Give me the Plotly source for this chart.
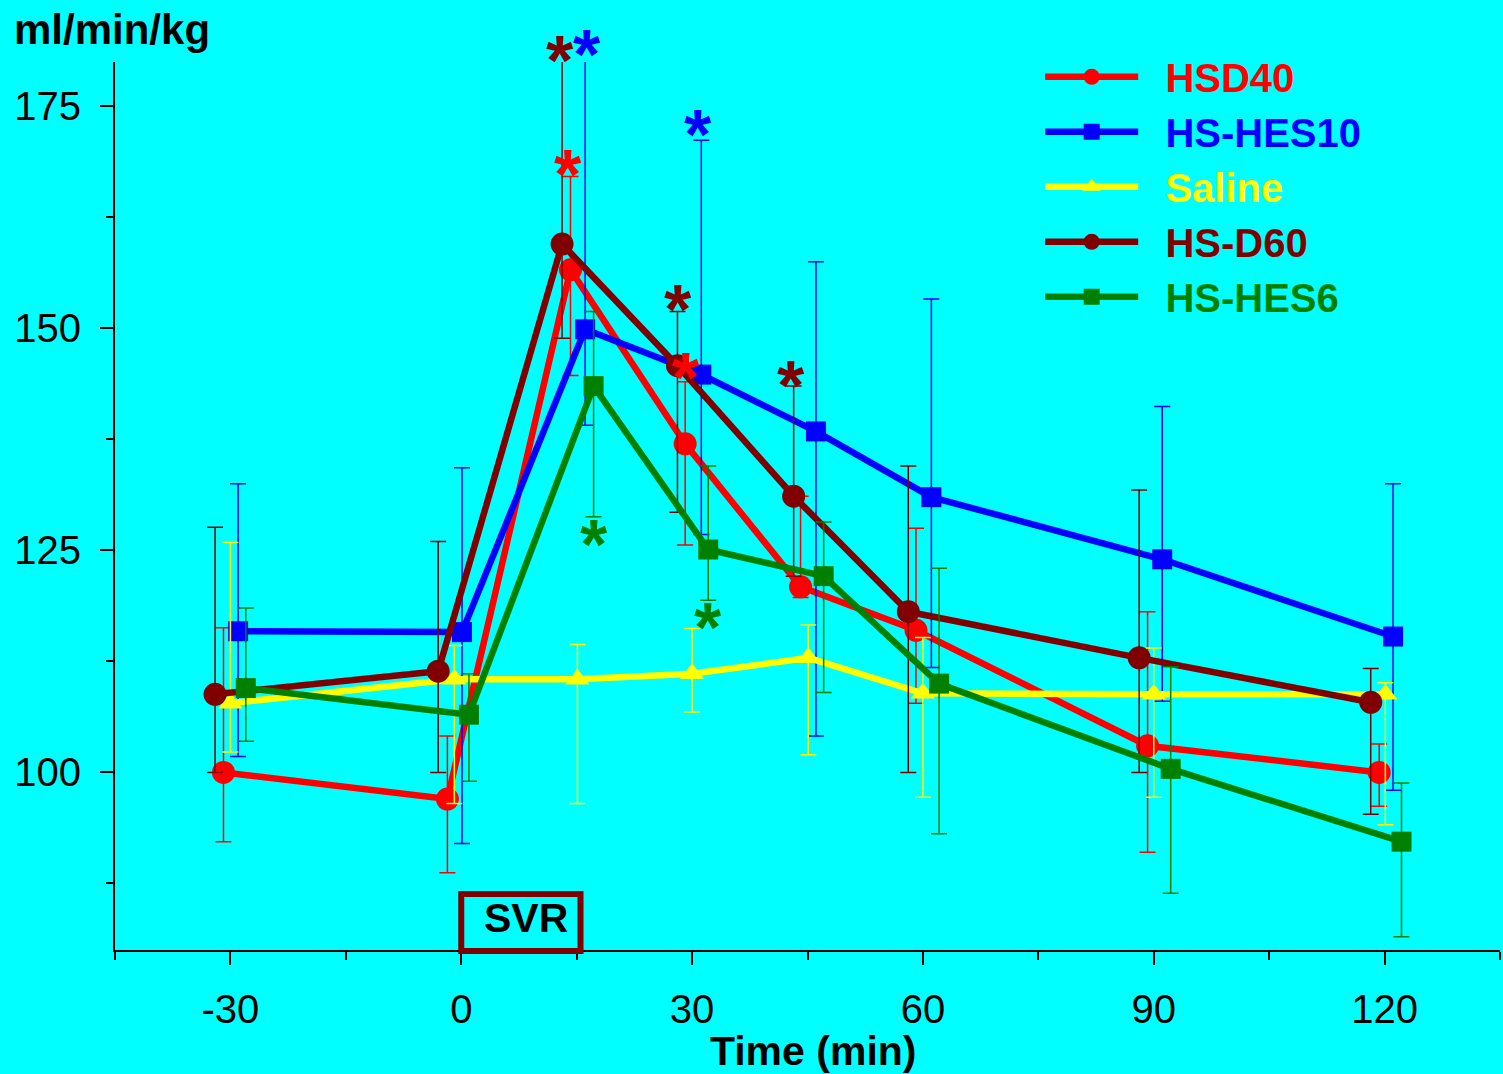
import plotly.graph_objects as go

# ---------------- data ----------------
names = ["HSD40", "HS-HES10", "Saline", "HS-D60", "HS-HES6"]
colors = ["#FF0000", "#0000FF", "#FFFF00", "#800000", "#008000"]
symbols = ["circle", "square", "triangle-up", "circle", "square"]

hsd40_x = [-30.9, -1.8, 14.2, 29.1, 44.1, 59.1, 89.2, 119.3]
hsd40_y = [100.0, 97.0, 156.6, 137.0, 120.9, 116.0, 103.0, 100.0]
hsd40_hi = [116.3, 104.1, 167.1, 144.0, 131.1, 127.5, 118.1, 103.2]
hsd40_lo = [92.2, 88.7, 144.7, 125.6, 119.7, 107.8, 91.0, 96.2]

hes10_x = [-29.0, 0.1, 16.1, 31.2, 46.1, 61.1, 91.1, 121.1]
hes10_y = [115.9, 115.8, 149.9, 144.8, 138.4, 131.0, 124.0, 115.3]
hes10_hi = [132.5, 134.3, 182.0, 171.2, 157.5, 153.3, 141.2, 132.5]
hes10_lo = [101.8, 92.0, 139.1, 126.8, 104.1, 111.8, 108.0, 98.0]

saline_x = [-30.0, -0.9, 15.1, 30.0, 45.1, 60.0, 90.0, 120.1]
saline_y = [107.8, 110.5, 110.5, 111.1, 112.9, 108.9, 108.8, 108.8]
saline_hi = [125.9, 114.3, 114.4, 116.2, 116.6, 115.2, 114.0, 110.1]
saline_lo = [102.3, 96.5, 96.5, 106.8, 102.0, 97.2, 97.2, 94.1]

d60_x = [-32.0, -3.0, 13.1, 28.1, 43.2, 58.1, 88.1, 118.2]
d60_y = [108.8, 111.4, 159.5, 145.8, 131.1, 118.1, 112.9, 107.9]
d60_hi = [127.6, 126.0, 182.0, 151.9, 143.5, 134.5, 131.8, 111.7]
d60_lo = [100.0, 100.0, 148.9, 129.3, 122.1, 100.0, 100.0, 95.3]

hes6_x = [-28.0, 1.0, 17.2, 32.1, 47.1, 62.1, 92.2, 122.2]
hes6_y = [109.5, 106.5, 143.5, 125.1, 122.1, 110.0, 100.4, 92.2]
hes6_hi = [118.5, 111.1, 151.9, 134.5, 128.2, 123.0, 111.9, 98.8]
hes6_lo = [103.5, 99.0, 128.8, 119.4, 109.0, 93.1, 86.4, 81.5]

# significance asterisks (x in min, y in ml/min/kg, series index)
star_x = [12.8, 16.4, 13.9, 30.8, 28.2, 29.2, 42.9, 17.2, 32.1]
star_y = [181.4, 182.0, 168.5, 173.0, 153.3, 145.6, 144.7, 126.8, 117.5]
star_series = [3, 1, 0, 1, 3, 0, 3, 4, 4]

x_ticks = [-30, 0, 30, 60, 90, 120]
y_ticks = [100, 125, 150, 175]
x_range = [-45, 135]
y_range = [80, 180]

series = [
    (hsd40_x, hsd40_y, hsd40_hi, hsd40_lo),
    (hes10_x, hes10_y, hes10_hi, hes10_lo),
    (saline_x, saline_y, saline_hi, saline_lo),
    (d60_x, d60_y, d60_hi, d60_lo),
    (hes6_x, hes6_y, hes6_hi, hes6_lo),
]
marker_sizes = [23, 20, 21, 23, 20]

FONT = "Liberation Sans, Arial, Helvetica, sans-serif"
BG = "#00FFFF"
NB = "\u00a0"

to_px = lambda v: (v - x_range[0]) / (x_range[1] - x_range[0])
to_py = lambda v: (v - y_range[0]) / (y_range[1] - y_range[0])

fig = go.Figure()
for i, (xs, ys, hi, lo) in enumerate(series):
    fig.add_trace(go.Scatter(
        x=xs, y=ys, mode="lines+markers",
        name="<b><span style='color:%s'>%s%s</span></b>" % (colors[i], NB * 2, names[i]),
        line=dict(color=colors[i], width=6.5),
        marker=dict(symbol=symbols[i], size=marker_sizes[i], color=colors[i],
                    line=dict(width=0)),
        error_y=dict(type="data", symmetric=False,
                     array=[h - y for h, y in zip(hi, ys)],
                     arrayminus=[y - l for y, l in zip(ys, lo)],
                     color=colors[i], thickness=1.5, width=8),
    ))

# asterisks (paper coords derived from data so those above the range still show)
for sx, sy, si in zip(star_x, star_y, star_series):
    fig.add_annotation(x=to_px(sx), y=to_py(sy), xref="paper", yref="paper",
                       text="<b>*</b>", showarrow=False,
                       yanchor="middle", xanchor="center", yshift=-11,
                       font=dict(size=70, color=colors[si], family=FONT))

# SVR box (x in minutes)
svr_x0, svr_x1 = 0.0, 15.5
fig.add_shape(type="rect", xref="paper", yref="paper",
              x0=to_px(svr_x0), x1=to_px(svr_x1), y0=-0.001, y1=0.063,
              line=dict(color="#800000", width=6), fillcolor="rgba(0,0,0,0)",
              layer="above")
fig.add_annotation(x=to_px((svr_x0 + svr_x1) / 2) + 0.004, y=0.0365,
                   xref="paper", yref="paper", text="<b>SVR</b>",
                   showarrow=False, xanchor="center", yanchor="middle",
                   font=dict(size=41, color="black", family=FONT))

# y-axis unit label
fig.add_annotation(x=-0.0747, y=1.037, xref="paper", yref="paper",
                   text="<b>ml/min/kg</b>", showarrow=False,
                   xanchor="left", yanchor="middle",
                   font=dict(size=42, color="black", family=FONT))

fig.update_layout(
    width=1503, height=1074,
    paper_bgcolor=BG, plot_bgcolor=BG,
    margin=dict(l=115, r=3, t=62, b=124, autoexpand=False),
    font=dict(family=FONT, color="black"),
    showlegend=True,
    legend=dict(x=0.668, y=1.020, xanchor="left", yanchor="top",
                bgcolor="rgba(0,0,0,0)", font=dict(size=40, family=FONT),
                itemwidth=93, tracegroupgap=0),
    xaxis=dict(range=x_range, tickvals=x_ticks, ticktext=[str(v) for v in x_ticks],
               ticks="outside", ticklen=13, tickwidth=1.5, tickcolor="black",
               showline=True, linecolor="black", linewidth=2,
               showgrid=False, zeroline=False,
               tickfont=dict(size=40, family=FONT), ticklabelstandoff=10,
               minor=dict(dtick=15, tick0=0, ticks="outside", ticklen=8,
                          tickwidth=1.5, tickcolor="black", showgrid=False),
               title=dict(text="<b>" + NB + "Time (min)</b>",
                          font=dict(size=41, family=FONT), standoff=0)),
    yaxis=dict(range=y_range, tickvals=y_ticks, ticktext=[str(v) for v in y_ticks],
               ticks="outside", ticklen=13, tickwidth=1.5, tickcolor="black",
               showline=True, linecolor="black", linewidth=2,
               showgrid=False, zeroline=False,
               tickfont=dict(size=40, family=FONT), ticklabelstandoff=11,
               minor=dict(dtick=12.5, tick0=100, ticks="outside", ticklen=7,
                          tickwidth=1.5, tickcolor="black", showgrid=False)),
)

fig.write_html("out.html",
               config={"displayModeBar": False},
               post_script="document.body.style.margin='0px';"
                           "document.body.style.overflow='hidden';")
